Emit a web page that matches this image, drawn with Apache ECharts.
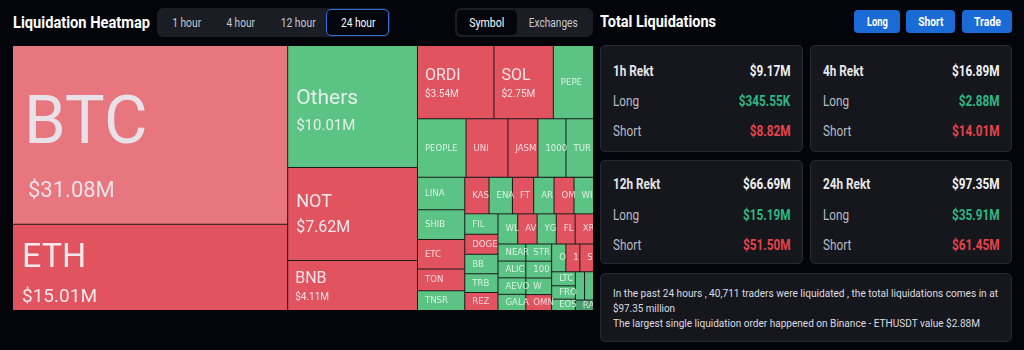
<!DOCTYPE html>
<html><head><meta charset="utf-8">
<script src="https://cdn.jsdelivr.net/npm/echarts@6/dist/echarts.min.js"></script>
<style>
*{box-sizing:border-box}
html,body{margin:0;padding:0;width:1024px;height:350px;background:#04050b;overflow:hidden;font-family:Roboto,"Noto Sans",sans-serif;color:#fff}
.t{position:absolute;white-space:nowrap;line-height:16px;height:16px}
.box{position:absolute}
.c{position:absolute;white-space:nowrap;line-height:16px;height:16px}
</style></head><body>
<div class="t" style="left:13px;top:15px;font-weight:700;font-size:16px" data-w="137">Liquidation Heatmap</div>
<div class="box" style="left:157px;top:8px;width:233px;height:29px;background:#1a1d24;border-radius:6px"></div>
<div class="box" style="left:326px;top:9px;width:63px;height:27px;background:#04060c;border:1.5px solid #2f6fdc;border-radius:5px"></div>
<div class="box" style="left:455px;top:8px;width:138px;height:29px;background:#1a1d24;border-radius:6px"></div>
<div class="box" style="left:457px;top:10px;width:60px;height:25px;background:#04060c;border-radius:5px"></div>
<div id="hdr"></div>
<div class="t" style="left:600px;top:14px;font-weight:700;font-size:16px" data-w="116">Total Liquidations</div>
<div id="btns"></div>
<div id="cards"></div>
<div class="box" style="left:600px;top:273px;width:412px;height:69px;background:#15171c;border:1px solid #262a31;border-radius:5px"></div>
<div id="note"></div>
<div id="tm" style="position:absolute;left:13px;top:46px;width:580px;height:264px"></div>
<script>
// ---------- data ----------
const symbols = ['BTC','ETH','Others','NOT','BNB','ORDI','SOL','PEPE','PEOPLE','UNI','JASMY','1000SATS','TURBO',
  'LINA','SHIB','ETC','TON','TNSR','KAS','ENA','FTM','AR','OM','WIF','FIL','DOGE','BB','TRB','REZ',
  'WLD','AVAX','YGG','FLOKI','XRP','NEAR','ALICE','AEVO','GALA','STRK','1000BONK','W','OMNI',
  'ONDO','10000LADYS','STX','LTC','FRONT','EOS','SUI','SEI','RAD'];
const amounts = [31.08,15.01,10.01,7.62,4.11,3.54,2.75,1.86,1.80,1.55,1.11,1.04,1.02,
  0.97,0.89,0.88,0.65,0.59,0.56,0.54,0.49,0.47,0.46,0.45,0.43,0.42,0.41,0.39,0.38,
  0.375,0.37,0.365,0.36,0.35,0.30,0.295,0.29,0.285,0.28,0.275,0.27,0.26,
  0.25,0.245,0.24,0.21,0.20,0.17,0.165,0.16,0.12];
// s = short heavy (red), s0 = mild short, l = long heavy (green), l2 = strong long
const sides = ['s0','s','l','s','s','s','s','l','l','s','s','l','l',
  'l','l','s','s','l','s','l','s','l','s','l','l','s','l','l','s',
  'l','s','l','s','s','l','l','l','l','l','l','l','s',
  'l','s','s','l','l','l','l','l','l2'];
const timeTabs = ['1 hour','4 hour','12 hour','24 hour'];
const viewTabs = ['Symbol','Exchanges'];
const actions = ['Long','Short','Trade'];
const rektPeriods = ['1h Rekt','4h Rekt','12h Rekt','24h Rekt'];
const rektTotal = ['$9.17M','$16.89M','$66.69M','$97.35M'];
const rektLong = ['$345.55K','$2.88M','$15.19M','$35.91M'];
const rektShort = ['$8.82M','$14.01M','$51.50M','$61.45M'];
const noteLines = ['In the past 24 hours , 40,711 traders were liquidated , the total liquidations comes in at',
  '$97.35 million','The largest single liquidation order happened on Binance - ETHUSDT value $2.88M'];

// ---------- UI ----------
function el(parent, cls, style, text, w){
  const d=document.createElement('div'); d.className=cls; d.setAttribute('style',style); d.textContent=text;
  if(w) d.dataset.w=w; parent.appendChild(d); return d;
}
const hdr=document.getElementById('hdr');
const tabX=[186.5,240.3,298.5,358], tabW=[29,28.5,35,34.5];
timeTabs.forEach((t,i)=>el(hdr,'c',`left:${tabX[i]-40}px;width:80px;text-align:center;top:15px;font-size:12.5px;color:${i===3?'#fff':'#c5c8cf'}`,t,tabW[i]));
const vX=[486.5,553.5], vW=[35,49];
viewTabs.forEach((t,i)=>el(hdr,'c',`left:${vX[i]-40}px;width:80px;text-align:center;top:15px;font-size:12.5px;color:${i===0?'#fff':'#c5c8cf'}`,t,vW[i]));
const btns=document.getElementById('btns');
const bL=[854,906,962], bW=[46,49,50], bT=[21,25,27];
actions.forEach((t,i)=>{
  el(btns,'box',`left:${bL[i]}px;top:10px;width:${bW[i]}px;height:23px;background:#1b6bd6;border-radius:4px`,'');
  el(btns,'c',`left:${bL[i]}px;width:${bW[i]}px;text-align:center;top:14px;font-size:12px;font-weight:700;color:#fff`,t,bT[i]);
});
const cards=document.getElementById('cards');
const cx=[600,810,600,810], cy=[45,45,160,160], ch=[107,107,104,104], cw=[203,202,203,202];
const rowY=[[71,101,131],[71,101,131],[184,215,245],[184,215,245]];
const K=0.84;
rektPeriods.forEach((p,i)=>{
  el(cards,'box',`left:${cx[i]}px;top:${cy[i]}px;width:${cw[i]}px;height:${ch[i]}px;background:#15171c;border:1px solid #262a31;border-radius:5px`,'');
  const lx=cx[i]+13, rx=1024-(cx[i]+cw[i]-13);
  const rows=[[p,rektTotal[i],'#f2f2f4',700,'#e6e6e9'],['Long',rektLong[i],'#2fb785',400,'#b9bcc3'],['Short',rektShort[i],'#e8434d',400,'#b9bcc3']];
  rows.forEach((r,j)=>{
    el(cards,'t',`left:${lx}px;top:${rowY[i][j]-8}px;font-size:14px;font-weight:${r[3]};color:${r[4]}`,r[0],'k');
    el(cards,'t',`right:${rx}px;top:${rowY[i][j]-8}px;font-size:14px;font-weight:700;color:${r[2]}`,r[1],'k');
  });
});
const note=document.getElementById('note');
const nW=[385,62,367];
noteLines.forEach((l,i)=>el(note,'t',`left:613px;top:${293+15*i-8}px;font-size:11.5px;color:#dcdde2`,l,nW[i]));

document.querySelectorAll('[data-w]').forEach(e=>{
  const inner=document.createElement('span'); inner.textContent=e.textContent; e.textContent=''; e.appendChild(inner);
  inner.style.display='inline-block';
  const w=inner.getBoundingClientRect().width;
  const s = e.dataset.w==='k' ? K : (+e.dataset.w)/w;
  const origin = e.classList.contains('c') ? 'center' : (e.style.right ? 'right' : 'left');
  inner.style.transformOrigin=origin+' center';
  inner.style.transform=`scaleX(${s})`;
});

// ---------- treemap ----------
function fontAvailable(name){
  const c=document.createElement('canvas').getContext('2d');
  const s='abcdefghijklmnopqrstuvwxyzABCDEFGHIJ0123456789';
  c.font='40px monospace'; const a=c.measureText(s).width;
  c.font=`40px "${name}", monospace`; const b=c.measureText(s).width;
  return Math.abs(a-b)>1;
}
const narrowFont=['Liberation Sans Narrow','DejaVu Sans Condensed','Roboto Condensed','Noto Sans Condensed'].find(fontAvailable)||'Roboto';
const palette={s:'#e0535f',s0:'#e8767e',l:'#5bc383',l2:'#4a9e6c'};
function tier(v){
  if(v>=25) return {n:67,nl:96,v:22,vl:36,dy:9,pl:11,vp:4,f:'Roboto',c:'rgba(232,232,238,0.95)'};
  if(v>=12) return {n:34,nl:56,v:19,vl:20,dy:1.5,pl:9,vp:0,f:'Roboto',c:'rgba(245,240,242,0.95)'};
  if(v>=9)  return {n:21,nl:34,v:15,vl:22,dy:3,pl:8,vp:0,f:'Roboto',c:'rgba(240,244,242,0.92)'};
  if(v>=6)  return {n:18,nl:28,v:16,vl:23,dy:0.5,pl:8,vp:0,f:'Roboto',c:'rgba(245,240,242,0.95)'};
  if(v>=2.5)return {n:16,nl:22,v:10,vl:15,dy:1.5,pl:7,vp:0,f:'Roboto',c:'rgba(245,240,242,0.92)'};
  return {n:9.5,nl:14,v:0,vl:0,dy:0,pl:7,vp:0,f:narrowFont,c:'rgba(255,255,255,0.78)'};
}
function buildData(cellH){
  return symbols.map((s,i)=>{
    const v=amounts[i], t=tier(v);
    const h=cellH?cellH[s]:200;
    const nl=Math.min(t.nl,Math.max(h-1,1));
    const H=nl+(t.v?t.vl:0);
    let pt=(h-H)/2+t.dy; pt=Math.max(0,Math.min(pt,h-H-0.5));
    return {
      name:s, value:v,
      itemStyle:{color:palette[sides[i]]},
      label:{
        padding:[pt,-4,0,t.pl],
        formatter: t.v ? `{n|${s}}\n{v|$${v.toFixed(2)}M}` : `{n|${s}}`,
        rich:{n:{fontSize:t.n,lineHeight:nl,color:t.c,fontFamily:t.f},
              v:{fontSize:t.v||10,lineHeight:t.vl||12,color:t.c,fontFamily:t.f,padding:[0,0,0,t.vp]}}
      }
    };
  });
}
const chart=echarts.init(document.getElementById('tm'),null,{renderer:'canvas'});
const baseSeries={
  type:'treemap', left:0, top:0, right:0, bottom:0,
  roam:false, nodeClick:false, breadcrumb:{show:false},
  squareRatio:0.5*(1+Math.sqrt(5)),
  visibleMin:1,
  itemStyle:{borderWidth:0,gapWidth:1,borderColor:'#1a1a1f'},
  levels:[{itemStyle:{borderWidth:0,gapWidth:1}}],
  label:{show:true,position:'insideLeft',overflow:'truncate',ellipsis:''},
  upperLabel:{show:false},
  emphasis:{disabled:true}
};
chart.setOption({animation:false,tooltip:{show:false},series:[Object.assign({},baseSeries,{data:buildData(null)})]});
// second pass: centre labels vertically using the library's own layout
const cellH={};
try{
  const tree=chart.getModel().getSeriesByIndex(0).getData().tree;
  tree.root.children.forEach(n=>{const L=n.getLayout(); if(L) cellH[n.name]=L.height;});
}catch(e){}
if(Object.keys(cellH).length){
  chart.setOption({series:[Object.assign({},baseSeries,{data:buildData(cellH)})]});
}
</script>
</body></html>
